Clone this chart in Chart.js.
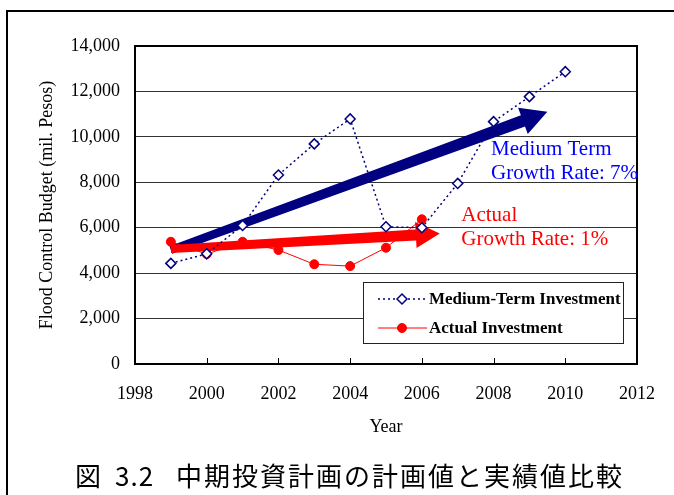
<!DOCTYPE html>
<html>
<head>
<meta charset="utf-8">
<script src="https://cdn.jsdelivr.net/npm/chart.js@4/dist/chart.umd.min.js"></script>
<style>
  html, body { margin: 0; padding: 0; background: #fff; }
  #wrap { width: 674px; height: 495px; }
</style>
</head>
<body>
<div id="wrap"><canvas id="budgetChart"></canvas></div>
<script>
// Années et budgets (mil. Pesos)
const mediumYears = [1999, 2000, 2001, 2002, 2003, 2004, 2005, 2006, 2007, 2008, 2009, 2010];
const mediumValues = [4430, 4850, 6100, 8320, 9690, 10790, 6040, 6000, 7950, 10670, 11770, 12870];
const actualYears = [1999, 2000, 2001, 2002, 2003, 2004, 2005, 2006];
const actualValues = [5380, 4840, 5380, 5020, 4390, 4310, 5120, 6370];

// Flèches de tendance : [année, valeur] début et fin
const mediumTrend = [[1999, 5020], [2009.5, 11100]];
const actualTrend = [[1999, 5060], [2006.5, 5740]];

const yTicks = [0, 2000, 4000, 6000, 8000, 10000, 12000, 14000];
const xTicks = [1998, 2000, 2002, 2004, 2006, 2008, 2010, 2012];

// Légende de la figure, en trois morceaux
const captionParts = ["図", "3.2", "中期投資計画の計画値と実績値比較"];

const serif = "'Liberation Serif', 'Times New Roman', serif";

function toPoints(xs, ys) {
  return xs.map((x, i) => ({ x: x, y: ys[i] }));
}

// Flèche épaisse (tige légèrement évasée + pointe)
function drawArrow(ctx, x0, y0, x1, y1, color, w0, w1, headLen, headWidth) {
  const a = Math.atan2(y1 - y0, x1 - x0);
  const nx = -Math.sin(a), ny = Math.cos(a);
  const bx = x1 - headLen * Math.cos(a), by = y1 - headLen * Math.sin(a);
  ctx.save();
  ctx.fillStyle = color;
  ctx.beginPath();
  ctx.moveTo(x0 + nx * w0 / 2, y0 + ny * w0 / 2);
  ctx.lineTo(bx + nx * w1 / 2, by + ny * w1 / 2);
  ctx.lineTo(bx + nx * headWidth / 2, by + ny * headWidth / 2);
  ctx.lineTo(x1, y1);
  ctx.lineTo(bx - nx * headWidth / 2, by - ny * headWidth / 2);
  ctx.lineTo(bx - nx * w1 / 2, by - ny * w1 / 2);
  ctx.lineTo(x0 - nx * w0 / 2, y0 - ny * w0 / 2);
  ctx.closePath();
  ctx.fill();
  ctx.restore();
}

// Cadre extérieur, bords du graphique, petites graduations et légende du bas
const framePlugin = {
  id: "frame",
  beforeDraw(chart) {
    const ctx = chart.ctx;
    ctx.save();
    ctx.fillStyle = "#fff";
    ctx.fillRect(0, 0, chart.width, chart.height);
    ctx.strokeStyle = "#000";
    ctx.lineWidth = 2;
    ctx.strokeRect(7, 11, chart.width + 20, chart.height + 20);
    ctx.restore();
  },
  afterDatasetsDraw(chart) {
    const { ctx, chartArea: ca, scales } = chart;
    ctx.save();
    ctx.strokeStyle = "#000";
    ctx.lineWidth = 2;
    ctx.strokeRect(ca.left, ca.top, ca.right - ca.left, ca.bottom - ca.top);
    ctx.lineWidth = 1;
    ctx.beginPath();
    xTicks.slice(1, -1).forEach((v) => {
      const px = Math.round(scales.x.getPixelForValue(v)) + 0.5;
      ctx.moveTo(px, ca.bottom);
      ctx.lineTo(px, ca.bottom - 6);
    });
    ctx.stroke();
    ctx.restore();
  },
  afterDraw(chart) {
    const ctx = chart.ctx;
    ctx.save();
    ctx.font = "26px 'Noto Sans CJK JP'";
    ctx.fillStyle = "#000";
    ctx.textAlign = "left";
    ctx.textBaseline = "middle";
    ctx.letterSpacing = "0px";
    ctx.fillText(captionParts[0], 75, 476);
    ctx.letterSpacing = "1px";
    ctx.fillText(captionParts[1], 115, 476);
    ctx.letterSpacing = "2px";
    ctx.fillText(captionParts[2], 176, 476);
    ctx.restore();
  },
};

// Flèches de croissance et leurs libellés
const trendPlugin = {
  id: "trend",
  beforeDatasetsDraw(chart) {
    const { ctx, scales } = chart;
    const px = (p) => [scales.x.getPixelForValue(p[0]), scales.y.getPixelForValue(p[1])];
    const m0 = px(mediumTrend[0]), m1 = px(mediumTrend[1]);
    drawArrow(ctx, m0[0], m0[1], m1[0], m1[1], "#000080", 8, 12, 26, 28);
    const a0 = px(actualTrend[0]), a1 = px(actualTrend[1]);
    drawArrow(ctx, a0[0], a0[1], a1[0], a1[1], "#FF0000", 8, 11, 24, 26);
  },
  afterDatasetsDraw(chart) {
    const { ctx, scales } = chart;
    ctx.save();
    ctx.font = "21px " + serif;
    ctx.textAlign = "left";
    ctx.textBaseline = "alphabetic";
    let x = scales.x.getPixelForValue(2007.93);
    let y = scales.y.getPixelForValue(9220);
    ctx.fillStyle = "#0000FF";
    ctx.fillText("Medium Term", x, y);
    ctx.fillText("Growth Rate: 7%", x, y + 24);
    x = scales.x.getPixelForValue(2007.1);
    y = scales.y.getPixelForValue(6290);
    ctx.fillStyle = "#FF0000";
    ctx.fillText("Actual", x, y);
    ctx.fillText("Growth Rate: 1%", x, y + 24);
    ctx.restore();
  },
};

// Légende encadrée dans la zone du graphique
const boxLegendPlugin = {
  id: "boxLegend",
  afterDatasetsDraw(chart) {
    const ctx = chart.ctx;
    const bx = 363, by = 282, bw = 260, bh = 61;
    ctx.save();
    ctx.fillStyle = "#fff";
    ctx.fillRect(bx, by, bw, bh);
    ctx.strokeStyle = "#222";
    ctx.lineWidth = 1;
    ctx.strokeRect(bx + 0.5, by + 0.5, bw, bh);

    chart.data.datasets.forEach((ds, i) => {
      const y = by + 17 + i * 29;
      ctx.strokeStyle = ds.borderColor;
      ctx.lineWidth = ds.borderWidth;
      ctx.setLineDash(ds.borderDash || []);
      ctx.beginPath();
      ctx.moveTo(bx + 15, y);
      ctx.lineTo(bx + 64, y);
      ctx.stroke();
      ctx.setLineDash([]);
      ctx.fillStyle = ds.pointBackgroundColor;
      ctx.strokeStyle = ds.pointBorderColor;
      ctx.lineWidth = ds.pointBorderWidth;
      Chart.helpers.drawPoint(ctx, {
        pointStyle: ds.pointStyle,
        radius: ds.pointRadius,
        borderWidth: ds.pointBorderWidth,
      }, bx + 39, y);
      ctx.fillStyle = "#000";
      ctx.font = "bold 17px " + serif;
      ctx.textAlign = "left";
      ctx.textBaseline = "middle";
      ctx.fillText(ds.label, bx + 66, y + 1);
    });
    ctx.restore();
  },
};

const ctx = document.getElementById("budgetChart").getContext("2d");

new Chart(ctx, {
  type: "line",
  data: {
    datasets: [
      {
        label: "Medium-Term Investment",
        data: toPoints(mediumYears, mediumValues),
        borderColor: "#000080",
        borderWidth: 1.5,
        borderDash: [2, 3],
        pointStyle: "rectRot",
        pointRadius: 5,
        pointBorderWidth: 1.5,
        pointBackgroundColor: "#fff",
        pointBorderColor: "#000080",
        tension: 0,
      },
      {
        label: "Actual Investment",
        data: toPoints(actualYears, actualValues),
        borderColor: "#FF0000",
        borderWidth: 1,
        pointStyle: "circle",
        pointRadius: 4.5,
        pointBorderWidth: 1,
        pointBackgroundColor: "#FF0000",
        pointBorderColor: "#FF0000",
        tension: 0,
      },
    ],
  },
  options: {
    responsive: true,
    maintainAspectRatio: false,
    animation: false,
    devicePixelRatio: 1,
    locale: "en-US",
    layout: { padding: { left: 10, top: 46, right: 30, bottom: 51 } },
    plugins: {
      legend: { display: false },
      tooltip: { enabled: false },
      title: { display: false },
    },
    scales: {
      x: {
        type: "linear",
        min: xTicks[0],
        max: xTicks[xTicks.length - 1],
        afterFit(scale) { scale.height = 80; },
        afterBuildTicks(scale) { scale.ticks = xTicks.map((v) => ({ value: v })); },
        ticks: {
          callback: (v) => String(v),
          color: "#000",
          font: { family: serif, size: 18 },
          padding: 19,
          maxRotation: 0,
        },
        grid: { display: false, drawTicks: false },
        border: { display: true, color: "#000", width: 2 },
        title: {
          display: true,
          text: "Year",
          color: "#000",
          font: { family: serif, size: 18 },
          padding: { top: 0, bottom: 6 },
        },
      },
      y: {
        min: yTicks[0],
        max: yTicks[yTicks.length - 1],
        afterFit(scale) { scale.width = 125; },
        afterBuildTicks(scale) { scale.ticks = yTicks.map((v) => ({ value: v })); },
        ticks: {
          color: "#000",
          font: { family: serif, size: 18 },
          padding: 15,
        },
        grid: { color: "#333", lineWidth: 1, drawTicks: false },
        border: { display: true, color: "#000", width: 2 },
        title: {
          display: true,
          text: "Flood Control Budget (mil. Pesos)",
          color: "#000",
          font: { family: serif, size: 18 },
          padding: { top: 26, bottom: 0 },
        },
      },
    },
  },
  plugins: [framePlugin, trendPlugin, boxLegendPlugin],
});
</script>
</body>
</html>
